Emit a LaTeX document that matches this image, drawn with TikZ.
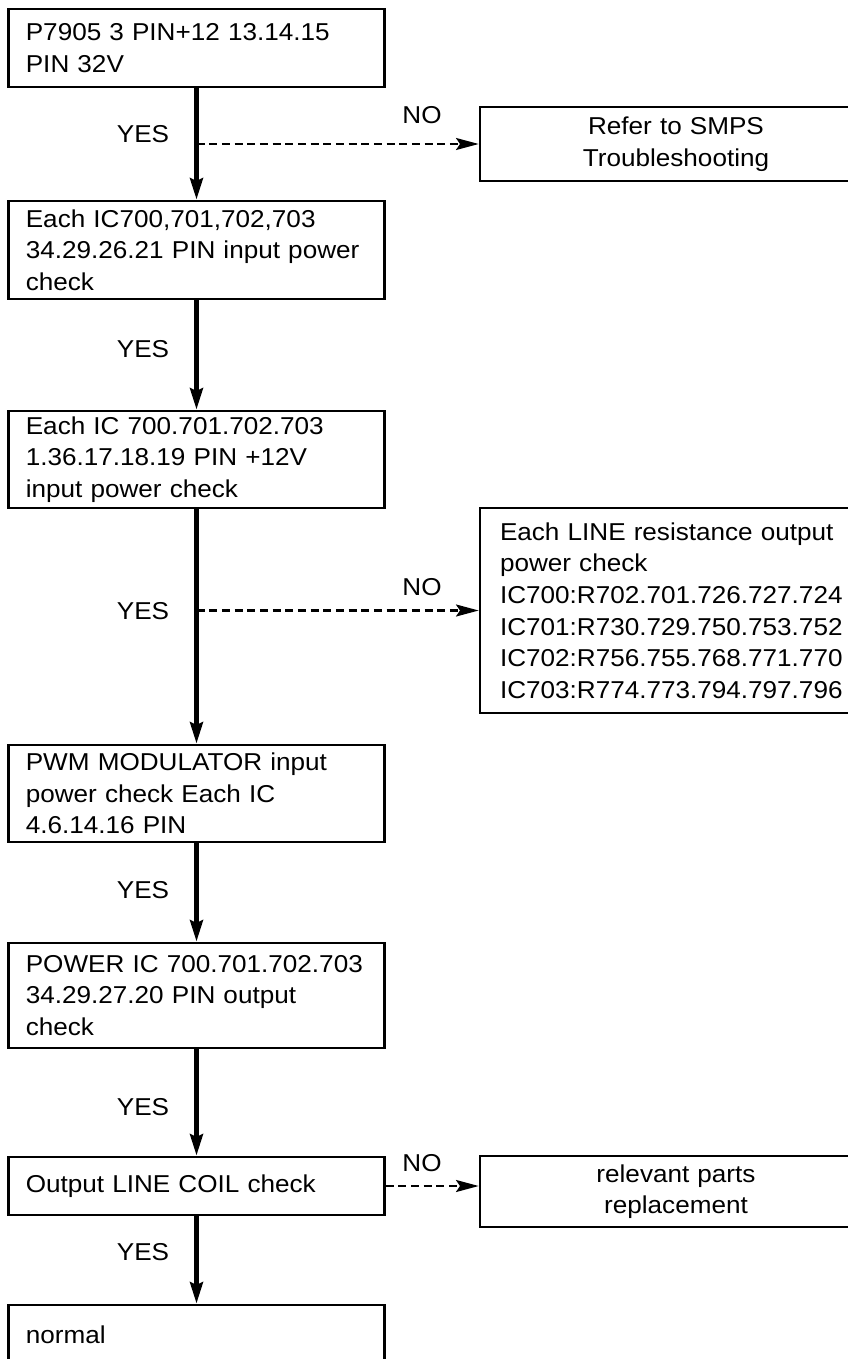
\documentclass[tikz,border=0pt]{standalone}
\usepackage{fontspec}
\setmainfont{Liberation Sans}[FakeStretch=1.07]
\usetikzlibrary{arrows.meta}

\newcommand{\flowfont}{\fontsize{18.3pt}{23.7pt}\selectfont}

\tikzset{every picture/.style={line width=0.75pt}}
\tikzset{
	leftbox/.style={draw, line width=2pt, align=left, text width=256pt, inner xsep=12.9pt, inner ysep=2pt, font=\flowfont},
	rightbox/.style={draw, line width=2pt, text width=264pt, inner xsep=15pt, inner ysep=2pt, font=\flowfont},
	yesarrow/.style={line width=3.6pt, -{Stealth[length=16pt,width=9.5pt,inset=2pt]}},
	noarrow/.style={line width=1.6pt, dash pattern=on 6pt off 3.5pt, -{Stealth[length=17pt,width=9pt,inset=3pt]}},
	lbl/.style={font=\flowfont, inner sep=0pt}
}

\begin{document}
\begin{tikzpicture}[x=0.75pt,y=0.75pt,yscale=-1,xscale=1]
	%set diagram size 848 x 1359, cut what runs over
	\useasboundingbox (0,0) rectangle (848,1359);
	\clip (0,0) rectangle (848,1359);

	%Shape: Rectangle (left column)
	\node[leftbox, minimum height=58.5pt] (b1) at (196.5,48) {P7905 3 PIN+12 13.14.15\\PIN 32V};
	\node[leftbox, minimum height=73.5pt] (b2) at (196.5,250) {Each IC700,701,702,703\\34.29.26.21 PIN input power\\check};
	\node[leftbox, minimum height=72.75pt] (b3) at (196.5,459.5) {Each IC 700.701.702.703\\1.36.17.18.19 PIN +12V\\input power check};
	\node[leftbox, minimum height=72.75pt] (b4) at (196.5,793.5) {PWM MODULATOR input\\power check Each IC\\4.6.14.16 PIN};
	\node[leftbox, minimum height=78.75pt] (b5) at (196.5,995.5) {POWER IC 700.701.702.703\\34.29.27.20 PIN output\\check};
	\node[leftbox, minimum height=43.5pt] (b6) at (196.5,1186) {Output LINE COIL check};
	\node[leftbox, minimum height=45pt] (b7) at (196.5,1335) {normal};

	%Shape: Rectangle (right column)
	\node[rightbox, align=center, minimum height=55.5pt] (r1) at (676,144) {Refer to SMPS\\Troubleshooting};
	\node[rightbox, align=left, minimum height=153.75pt] (r2) at (676,610.5) {Each LINE resistance output\\power check\\IC700:R702.701.726.727.724\\IC701:R730.729.750.753.752\\IC702:R756.755.768.771.770\\IC703:R774.773.794.797.796};
	\node[rightbox, align=center, minimum height=53.25pt] (r3) at (676,1191.5) {relevant parts\\replacement};

	%Straight Lines (YES)
	\draw[yesarrow] (b1.south) -- (b2.north);
	\draw[yesarrow] (b2.south) -- (b3.north);
	\draw[yesarrow] (b3.south) -- (b4.north);
	\draw[yesarrow] (b4.south) -- (b5.north);
	\draw[yesarrow] (b5.south) -- (b6.north);
	\draw[yesarrow] (b6.south) -- (b7.north);

	%Straight Lines (NO)
	\draw[noarrow] (b1.south |- r1.west) -- (r1.west);
	\draw[noarrow] (b3.south |- r2.west) -- (r2.west);
	\draw[noarrow] (b6.east) -- (b6.east -| r3.west);

	%labels
	\foreach \y [count=\i] in {134,349,611,890,1107,1252}
		\node[lbl] (yes\i) at (143,\y) {YES};
	\foreach \y [count=\i] in {115,587,1163}
		\node[lbl] (no\i) at (422,\y) {NO};

\end{tikzpicture}
\end{document}
